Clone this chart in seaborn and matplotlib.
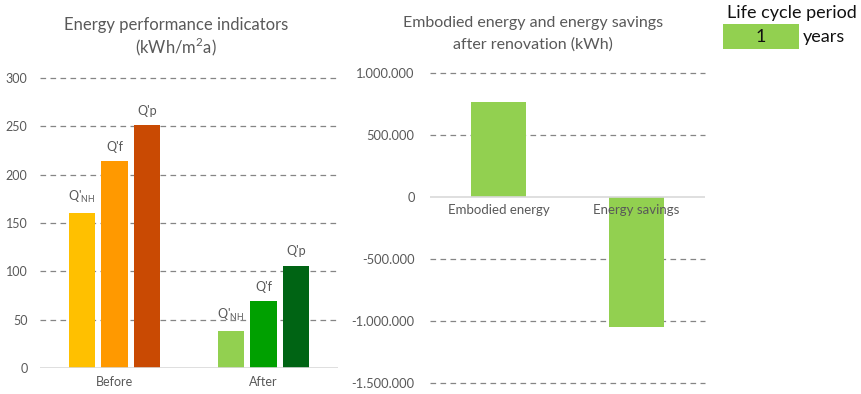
import matplotlib
matplotlib.use("Agg")
import matplotlib.pyplot as plt
import matplotlib.ticker as mticker
from matplotlib.patches import Rectangle
import seaborn as sns
import pandas as pd

# ---- data ----
periods = ["Before", "After"]
indicators = ["Q'NH", "Q'f", "Q'p"]
indicator_labels = [r"Q'$_{\mathregular{NH}}$", "Q'f", "Q'p"]
before_vals = [160, 214, 251]
after_vals = [38, 69, 106]
before_colors = ["#FFC000", "#FF9900", "#C94A03"]
after_colors = ["#92D050", "#00A000", "#006414"]

energy_categories = ["Embodied energy", "Energy savings"]
energy_values = [768000, -1050000]
life_cycle_years = 1

left_ticks = [0, 50, 100, 150, 200, 250, 300]
right_ticks = [-1500000, -1000000, -500000, 0, 500000, 1000000]

sns.set_style("white")
plt.rcParams["font.family"] = ["Lato", "DejaVu Sans"]
GRAY = "#595959"
GRID = "#858585"
DASH = (0, (4.5, 3.5))

fig = plt.figure(figsize=(8.62, 3.94), dpi=100)

# ---------------- left chart ----------------
df = pd.DataFrame({
    "period": [p for p in periods for _ in indicators],
    "indicator": indicators * len(periods),
    "value": before_vals + after_vals,
})
ax1 = fig.add_axes([40 / 862, 1 - 368 / 394, 298 / 862, 290 / 394])
sns.barplot(data=df, x="period", y="value", hue="indicator", order=periods,
            hue_order=indicators, width=0.66, gap=0.2, legend=False,
            ax=ax1, errorbar=None, saturation=1)
group_colors = [before_colors, after_colors]
for hi, cont in enumerate(ax1.containers):
    for gi, bar in enumerate(cont):
        bar.set_facecolor(group_colors[gi][hi])
        bar.set_edgecolor("none")
        ax1.annotate(indicator_labels[hi],
                     (bar.get_x() + bar.get_width() / 2, bar.get_height()),
                     xytext=(0, 6), textcoords="offset points",
                     ha="center", va="bottom", fontsize=9, color=GRAY)
ax1.set_xlim(-0.5, 1.5)
ax1.set_ylim(0, 300)
ax1.set_yticks(left_ticks)
for t in left_ticks[1:]:
    ax1.axhline(t, color=GRID, lw=0.9, ls=DASH, zorder=0, clip_on=False)
ax1.axhline(0, color="#D9D9D9", lw=1.2, zorder=3)
ax1.set_xlabel("")
ax1.set_ylabel("")
sns.despine(ax=ax1, left=True, bottom=True)
ax1.tick_params(axis="both", length=0, labelsize=9, colors=GRAY)
ax1.tick_params(axis="y", pad=9)
ax1.tick_params(axis="x", pad=6)
ax1.set_axisbelow(True)
fig.text(176 / 862, 1 - 25 / 394, "Energy performance indicators",
         ha="center", va="center", fontsize=12, color=GRAY)
fig.text(176 / 862, 1 - 47 / 394, r"(kWh/m$^{\mathregular{2}}$a)",
         ha="center", va="center", fontsize=12, color=GRAY)

# ---------------- right chart ----------------
df2 = pd.DataFrame({"category": energy_categories, "value": energy_values})
ax2 = fig.add_axes([430 / 862, 1 - 383 / 394, 275 / 862, 310 / 394])
sns.barplot(data=df2, x="category", y="value", color="#92D050", width=0.4,
            saturation=1, errorbar=None, ax=ax2)
for bar in ax2.patches:
    bar.set_edgecolor("none")
ax2.set_xlim(-0.5, 1.5)
ax2.set_ylim(-1500000, 1000000)
ax2.set_yticks(right_ticks)
ax2.yaxis.set_major_formatter(
    mticker.FuncFormatter(lambda v, p: f"{v:,.0f}".replace(",", ".")))
for t in right_ticks:
    if t != 0:
        ax2.axhline(t, color=GRID, lw=0.9, ls=DASH, zorder=0, clip_on=False)
ax2.axhline(0, color="#D9D9D9", lw=1.2, zorder=3)
ax2.set_xticks([])
ax2.set_xlabel("")
ax2.set_ylabel("")
sns.despine(ax=ax2, left=True, bottom=True)
ax2.tick_params(axis="y", length=0, labelsize=9.3, colors=GRAY, pad=11)
for i, name in enumerate(energy_categories):
    ax2.annotate(name, (i, 0), xytext=(0, -5), textcoords="offset points",
                 ha="center", va="top", fontsize=9.5, color=GRAY, zorder=5)
fig.text(533 / 862, 1 - 23 / 394, "Embodied energy and energy savings",
         ha="center", va="center", fontsize=11.5, color=GRAY)
fig.text(533 / 862, 1 - 45 / 394, "after renovation (kWh)",
         ha="center", va="center", fontsize=11.5, color=GRAY)

# ---------------- life cycle box ----------------
fig.patches.append(Rectangle((723 / 862, 1 - 49 / 394), 76 / 862, 25 / 394,
                             transform=fig.transFigure, facecolor="#92D050",
                             edgecolor="none"))
fig.text(792 / 862, 1 - 13 / 394, "Life cycle period", ha="center",
         va="center", fontsize=13, color="#111111")
fig.text(761 / 862, 1 - 37 / 394, str(life_cycle_years), ha="center",
         va="center", fontsize=13, color="#111111")
fig.text(803 / 862, 1 - 37 / 394, "years", ha="left", va="center",
         fontsize=13, color="#111111")

fig.savefig("out.png", dpi=100)
